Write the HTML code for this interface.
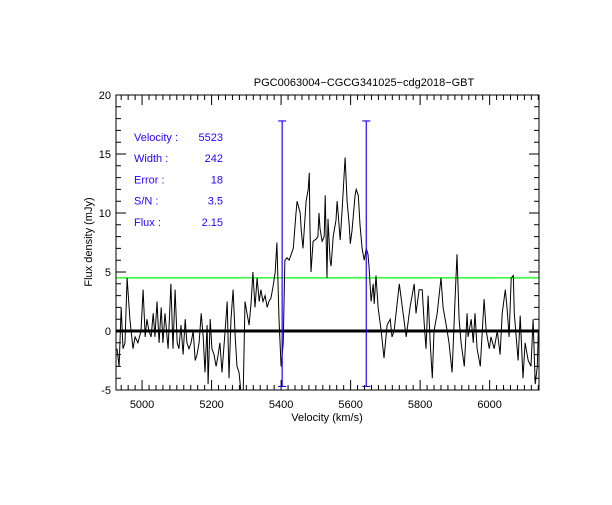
<!DOCTYPE html>
<html><head><meta charset="utf-8"><style>
body{margin:0;background:#fff;}
svg text{font-family:"Liberation Sans",sans-serif;font-size:11px;}
</style></head><body>
<svg id="c" width="612" height="500" viewBox="0 0 612 500">
<rect width="612" height="500" fill="#fff"/>
<g id="g"></g>
</svg>
<script>
const velocities=[4928,4934,4940,4945,4951,4957,4965,4974,4980,4988,4997,5003,5009,5014,5020,5026,5032,5037,5043,5049,5055,5060,5066,5075,5083,5089,5095,5101,5106,5112,5118,5124,5129,5135,5141,5147,5153,5158,5164,5170,5176,5181,5187,5190,5196,5201,5207,5213,5219,5224,5230,5239,5245,5250,5256,5262,5268,5273,5279,5285,5291,5296,5302,5308,5314,5319,5325,5331,5337,5342,5348,5354,5360,5365,5371,5377,5383,5388,5394,5400,5406,5411,5417,5423,5429,5435,5443,5446,5455,5458,5463,5472,5478,5481,5483,5486,5492,5501,5506,5509,5512,5518,5524,5527,5532,5535,5541,5544,5550,5558,5561,5564,5570,5576,5584,5590,5596,5599,5604,5613,5616,5622,5627,5633,5639,5645,5650,5653,5659,5665,5668,5673,5679,5688,5696,5705,5714,5719,5725,5740,5751,5760,5771,5783,5788,5797,5806,5812,5817,5823,5829,5835,5840,5849,5860,5866,5878,5883,5892,5901,5906,5912,5918,5927,5935,5938,5947,5953,5958,5964,5973,5984,5990,5999,6004,6013,6022,6030,6036,6045,6050,6056,6062,6068,6071,6082,6088,6096,6102,6111,6119,6125,6131,6137,6140];
const fluxes=[-1.5,-3,2,-1.5,-1,4.5,1,-1.5,-0.5,-1,0,3.5,-0.5,1,0,-0.5,1.5,-0.5,2.5,-1,2,-1,1.5,-1.5,4,-1.5,3.5,-1,-1.5,0.5,-2,1,-1,-1.5,-1,0,-2.5,-2,-1,1.5,-0.5,-3.5,0.5,-4.5,1,-1.5,-2,-3,-2,-1,-3.5,0,2.5,-4,1,3.5,-0.5,-3,-3.5,-5.3,-5.3,2.5,1.5,0.5,2.5,5,2,4.5,2.5,3.5,2.5,3,2,2.5,2.8,3.8,5,7.5,1,-3,-1,6,6.2,6,6.5,7,10,11,10,8.5,7,11,12,13.4,9,5,7.6,7.8,8,10,8.7,7.6,8,11.5,4.5,9.5,6,5.5,8,9.4,11,10,7.7,10.5,14.7,11,9,7.4,8.5,11.5,12,11.5,9,7,6,7,6.5,5.5,2.5,4,2.3,4.7,2,0,-2.3,0.5,1,-0.5,0,4,1.5,-0.5,2,4,1.5,3.5,3.5,0.5,-1.5,3,-1,-4,0,1.5,4.5,2,0,-1,-3.5,3,6.5,1,-1,-3,1.5,-0.5,1,-1,1.5,-1.5,-3,2.7,0,-1.5,-0.5,-1.5,0,-2,1.5,3.5,2,-0.5,4.5,4.7,1.5,-2.5,1.3,-4,-1,-2.5,-3,1,-4.5,-3,0];
const xTicks=[5000,5200,5400,5600,5800,6000];
const yTicks=[-5,0,5,10,15,20];
const markerVel=[5403,5645];
const rmsLevel=[4.5];
const infoLabels=["Velocity :","Width :","Error :","S/N :","Flux :"];
const infoValues=["5523","242","18","3.5","2.15"];

const L=116,R=539,T=95,B=390,V0=4925,V1=6142,F0=-5,F1=20;
const X=v=>L+(v-V0)/(V1-V0)*(R-L);
const Y=f=>B-(f-F0)/(F1-F0)*(B-T);
const g=document.getElementById('g');
const NS='http://www.w3.org/2000/svg';
function mk(t,a,txt){const e=document.createElementNS(NS,t);for(const k in a)e.setAttribute(k,a[k]);if(txt!==undefined)e.textContent=txt;g.appendChild(e);return e;}

// clip
const cp=mk('clipPath',{id:'pc'});g.removeChild(cp);
const r=document.createElementNS(NS,'rect');r.setAttribute('x',L);r.setAttribute('y',T);r.setAttribute('width',R-L);r.setAttribute('height',B-T);cp.appendChild(r);g.appendChild(cp);

// zero line
let e=mk('line',{x1:L,x2:R,y1:Y(0),y2:Y(0),stroke:'#000','stroke-width':3});


// rms line
e=mk('line',{x1:L,x2:R,y1:Y(rmsLevel[0]),y2:Y(rmsLevel[0]),stroke:'#00ff00','stroke-width':1.2});


// spectrum
let d=velocities.map((v,i)=>(i?'L':'M')+X(v).toFixed(1)+' '+Y(fluxes[i]).toFixed(1)).join(' ');
e=mk('path',{d:d,fill:'none',stroke:'#000','stroke-width':1,'clip-path':'url(#pc)'});


// markers
markerVel.forEach((v,i)=>{
 const x=X(v);
 const m=mk('path',{d:`M${x} ${Y(17.8)}V${Y(-4.7)}M${x-4} ${Y(17.8)}H${x+4}M${x-4} ${Y(-4.7)}H${x+4}`,stroke:i?'#2a00ff':'#2a00ff','stroke-width':1.2,fill:'none'});
 
 
});
// frame
e=mk('rect',{x:L,y:T,width:R-L,height:B-T,fill:'none',stroke:'#000','stroke-width':1});


// ticks
let td='';
for(let v=4940;v<=6140;v+=20){const x=X(v);const maj=v%200===0;const l=maj?10:5;td+=`M${x} ${B}v${-l}M${x} ${T}v${l}`;}
for(let f=-5;f<=20;f+=1){const y=Y(f);const l=f%5===0?10:5;td+=`M${L} ${y}h${l}M${R} ${y}h${-l}`;}
e=mk('path',{d:td,stroke:'#000','stroke-width':1});


xTicks.forEach(v=>{const t=mk('text',{x:X(v),y:B+18,'text-anchor':'middle'},String(v));
 
 });
yTicks.forEach(f=>{const t=mk('text',{x:L-5,y:Y(f)+4,'text-anchor':'end'},String(f));
 
 });
e=mk('text',{x:327,y:421,'text-anchor':'middle'},'Velocity (km/s)');


e=mk('text',{x:92,y:242,'text-anchor':'middle',transform:'rotate(-90 92 242)'},'Flux density (mJy)');


e=mk('text',{x:364,y:86,'text-anchor':'middle','font-size':'13px'},'PGC0063004\u2212CGCG341025\u2212cdg2018\u2212GBT');


infoLabels.forEach((s,i)=>{
 const a=mk('text',{x:134,y:141+i*21.2,fill:'#2a00ff','font-size':'10.5px'},s);
 
 
 const b=mk('text',{x:223,y:141+i*21.2,fill:'#2a00ff','text-anchor':'end','font-size':'10.5px'},infoValues[i]);
 
 
});
</script>
</body></html>
